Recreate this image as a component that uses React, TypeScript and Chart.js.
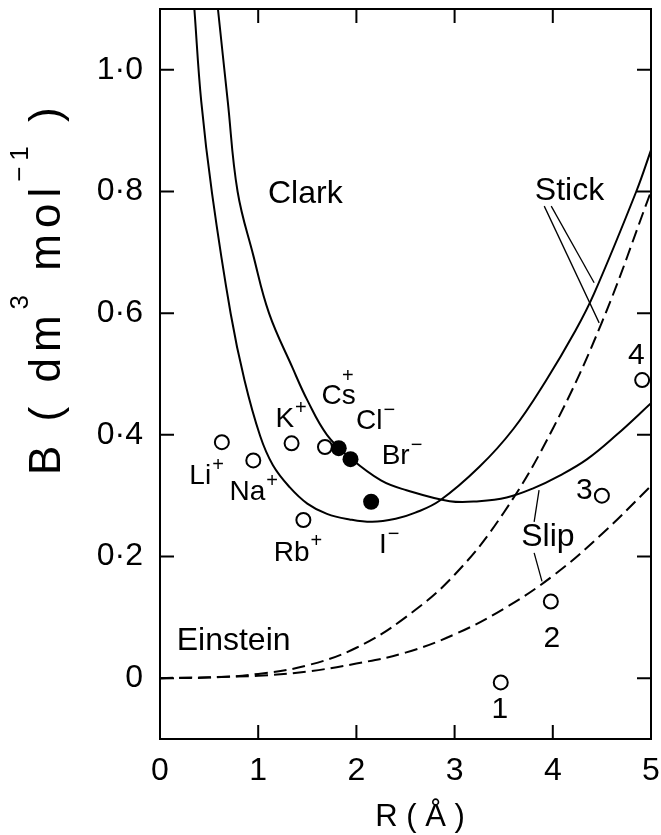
import React, { useEffect, useRef } from "react";
import { Chart, registerables } from "chart.js";

Chart.register(...registerables);

const FONT = "'Liberation Sans', Arial, sans-serif";

// axis ticks
const xTicks = [0, 1, 2, 3, 4, 5];
const yTicks = [0, 0.2, 0.4, 0.6, 0.8, 1.0];

// Clark "stick" (solid)
const stickSolidX = [0.35, 0.42, 0.53, 0.72, 0.86, 1.02, 1.15, 1.32, 1.5, 1.7, 1.93, 2.16, 2.4, 2.6, 2.85, 3.25, 3.6, 3.93, 4.23, 4.42, 4.85, 5.0];
const stickSolidY = [1.1, 0.948, 0.797, 0.599, 0.49, 0.398, 0.35, 0.314, 0.287, 0.27, 0.261, 0.257, 0.262, 0.272, 0.292, 0.347, 0.41, 0.489, 0.571, 0.632, 0.80, 0.868];

// Clark "slip" (solid)
const slipSolidX = [0.59, 0.69, 0.79, 0.95, 1.11, 1.35, 1.5, 1.7, 1.93, 2.25, 2.51, 2.95, 3.25, 3.53, 3.8, 4.07, 4.35, 4.65, 5.0];
const slipSolidY = [1.1, 0.948, 0.8, 0.695, 0.6, 0.51, 0.457, 0.40, 0.363, 0.325, 0.309, 0.291, 0.291, 0.297, 0.312, 0.333, 0.36, 0.40, 0.452];

// Einstein "stick" (dashed)
const stickDashX = [0, 0.5, 1.0, 1.5, 2.0, 2.5, 3.0, 3.5, 4.0, 4.5, 5.0];
const stickDashY = [0, 0.001, 0.007, 0.021, 0.05, 0.10, 0.17, 0.272, 0.41, 0.585, 0.80];

// Einstein "slip" (dashed)
const slipDashX = [0, 1.0, 1.5, 2.0, 2.5, 3.0, 3.5, 4.0, 4.5, 5.0];
const slipDashY = [0, 0.004, 0.011, 0.024, 0.042, 0.072, 0.114, 0.168, 0.237, 0.316];

// open circles: alkali cations + numbered points
const openX = [0.63, 0.95, 1.34, 1.68, 1.46, 3.47, 3.98, 4.5, 4.91];
const openY = [0.388, 0.358, 0.386, 0.38, 0.26, -0.007, 0.126, 0.30, 0.49];

// filled circles: halide anions
const filledX = [1.82, 1.94, 2.15];
const filledY = [0.378, 0.36, 0.29];

// leader lines (pairs of endpoints)
const leaderX = [[3.913, 4.472], [3.984, 4.421], [3.81, 3.86], [3.81, 3.89]];
const leaderY = [[0.776, 0.584], [0.776, 0.65], [0.257, 0.309], [0.206, 0.159]];

// text annotations
const labelText = ["Li", "Na", "K", "Cs", "Cl", "Br", "I", "Rb", "1", "2", "3", "4", "Einstein", "Clark", "Stick", "Slip"];
const labelSup = ["+", "+", "+", "+", "\u2212", "\u2212", "\u2212", "+", "", "", "", "", "", "", "", ""];
const labelX = [0.41, 0.89, 1.27, 1.82, 2.13, 2.40, 2.27, 1.34, 3.46, 3.99, 4.32, 4.85, 0.75, 1.48, 4.17, 3.95];
const labelY = [0.332, 0.306, 0.426, 0.463, 0.422, 0.365, 0.218, 0.206, -0.052, 0.065, 0.308, 0.53, 0.061, 0.795, 0.80, 0.231];

const pts = (xs: number[], ys: number[]) => xs.map((x, i) => ({ x, y: ys[i] }));

const fmtY = (v: number) => (v === 0 ? "0" : v.toFixed(1).replace(".", "\u00B7"));

const decorPlugin = {
  id: "decor",
  afterDraw(chart: any) {
    const { ctx, chartArea: a, scales } = chart;
    const xs = scales.x;
    const ys = scales.y;
    ctx.save();
    ctx.strokeStyle = "#000";
    ctx.fillStyle = "#000";
    ctx.lineWidth = 2;
    ctx.strokeRect(a.left, a.top, a.right - a.left, a.bottom - a.top);
    const tl = 14;
    ctx.beginPath();
    xTicks.forEach((v) => {
      const p = xs.getPixelForValue(v);
      ctx.moveTo(p, a.bottom);
      ctx.lineTo(p, a.bottom - tl);
      ctx.moveTo(p, a.top);
      ctx.lineTo(p, a.top + tl);
    });
    yTicks.forEach((v) => {
      const p = ys.getPixelForValue(v);
      ctx.moveTo(a.left, p);
      ctx.lineTo(a.left + tl, p);
      ctx.moveTo(a.right, p);
      ctx.lineTo(a.right - tl, p);
    });
    ctx.stroke();

    // annotations
    ctx.textBaseline = "middle";
    labelText.forEach((t, i) => {
      const px = xs.getPixelForValue(labelX[i]);
      const py = ys.getPixelForValue(labelY[i]);
      const isWord = t.length > 2;
      const isDigit = /^[0-9]$/.test(t);
      const size = isWord ? 32 : isDigit ? 30 : 28;
      ctx.font = `${size}px ${FONT}`;
      ctx.textAlign = "center";
      ctx.fillText(t, px, py);
      const sup = labelSup[i];
      if (sup) {
        const w = ctx.measureText(t).width;
        ctx.font = `20px ${FONT}`;
        if (t === "Cs") {
          const sw = ctx.measureText("s").width;
          ctx.fillText(sup, px + w / 2 - sw / 2 - 3, py - 20);
        } else {
          ctx.textAlign = "left";
          ctx.fillText(sup, px + w / 2 + 1, py - 11);
        }
      }
    });

    // x title
    ctx.font = `31px ${FONT}`;
    ctx.textAlign = "center";
    ctx.textBaseline = "alphabetic";
    ctx.fillText("R ( \u00C5 )", 420, 826);

    // y title (rotated, with superscripts)
    ctx.translate(60, 475);
    ctx.rotate(-Math.PI / 2);
    ctx.textAlign = "left";
    const parts: [string, boolean][] = [["B ( dm", false], ["3", true], [" mol", false], ["\u22121", true], [" )", false]];
    let pos = 0;
    parts.forEach(([t, sup]) => {
      ctx.font = sup ? `26px ${FONT}` : `44px ${FONT}`;
      (ctx as any).letterSpacing = "6px";
      ctx.fillText(t, pos, sup ? -32 : 0);
      pos += ctx.measureText(t).width;
    });
    ctx.restore();
  },
};

export default function App() {
  const ref = useRef<HTMLCanvasElement | null>(null);
  useEffect(() => {
    if (!ref.current) return;
    const solid = (d: any) => ({
      type: "line",
      data: d,
      borderColor: "#000",
      borderWidth: 2,
      pointRadius: 0,
      fill: false,
      tension: 0.4,
      showLine: true,
      order: 2,
    });
    const dashed = (d: any) => ({ ...solid(d), borderDash: [13, 6] });
    const leaders = leaderX.map((lx, i) => ({
      type: "line",
      data: pts(lx, leaderY[i]),
      borderColor: "#000",
      borderWidth: 1.3,
      pointRadius: 0,
      fill: false,
      tension: 0,
      showLine: true,
      order: 3,
    }));
    const chart = new Chart(ref.current, {
      type: "scatter",
      data: {
        datasets: [
          solid(pts(stickSolidX, stickSolidY)),
          solid(pts(slipSolidX, slipSolidY)),
          dashed(pts(stickDashX, stickDashY)),
          dashed(pts(slipDashX, slipDashY)),
          ...leaders,
          {
            type: "scatter",
            data: pts(openX, openY),
            pointRadius: 7,
            pointBorderWidth: 2,
            pointBackgroundColor: "#fff",
            pointBorderColor: "#000",
            order: 1,
          },
          {
            type: "scatter",
            data: pts(filledX, filledY),
            pointRadius: 8,
            pointBorderWidth: 0,
            pointBackgroundColor: "#000",
            pointBorderColor: "#000",
            order: 0,
          },
        ] as any,
      },
      options: {
        animation: false,
        responsive: false,
        maintainAspectRatio: false,
        layout: { padding: { left: 0, top: 9, right: 10, bottom: 0 } },
        plugins: { legend: { display: false }, tooltip: { enabled: false } },
        scales: {
          x: {
            type: "linear",
            min: 0,
            max: 5,
            afterBuildTicks: (s: any) => {
              s.ticks = xTicks.map((v) => ({ value: v }));
            },
            afterFit: (s: any) => {
              s.height = 96;
              s.paddingLeft = 0;
              s.paddingRight = 0;
            },
            grid: { display: false, drawTicks: false },
            border: { display: false },
            ticks: {
              padding: 13,
              color: "#000",
              font: { family: FONT, size: 32 },
              maxRotation: 0,
              autoSkip: false,
              callback: (v: any) => String(v),
            },
          },
          y: {
            type: "linear",
            min: -0.1,
            max: 1.1,
            afterBuildTicks: (s: any) => {
              s.ticks = yTicks.map((v) => ({ value: v }));
            },
            afterFit: (s: any) => {
              s.width = 160;
              s.paddingTop = 0;
              s.paddingBottom = 0;
            },
            grid: { display: false, drawTicks: false },
            border: { display: false },
            ticks: {
              padding: 17,
              color: "#000",
              font: { family: FONT, size: 32 },
              autoSkip: false,
              callback: (v: any) => fmtY(Number(v)),
            },
          },
        },
      } as any,
      plugins: [decorPlugin],
    });
    return () => chart.destroy();
  }, []);
  return (
    <div style={{ position: "absolute", left: 0, top: 0, width: 661, height: 835, background: "#fff" }}>
      <canvas ref={ref} width={661} height={835} style={{ display: "block" }} />
    </div>
  );
}
